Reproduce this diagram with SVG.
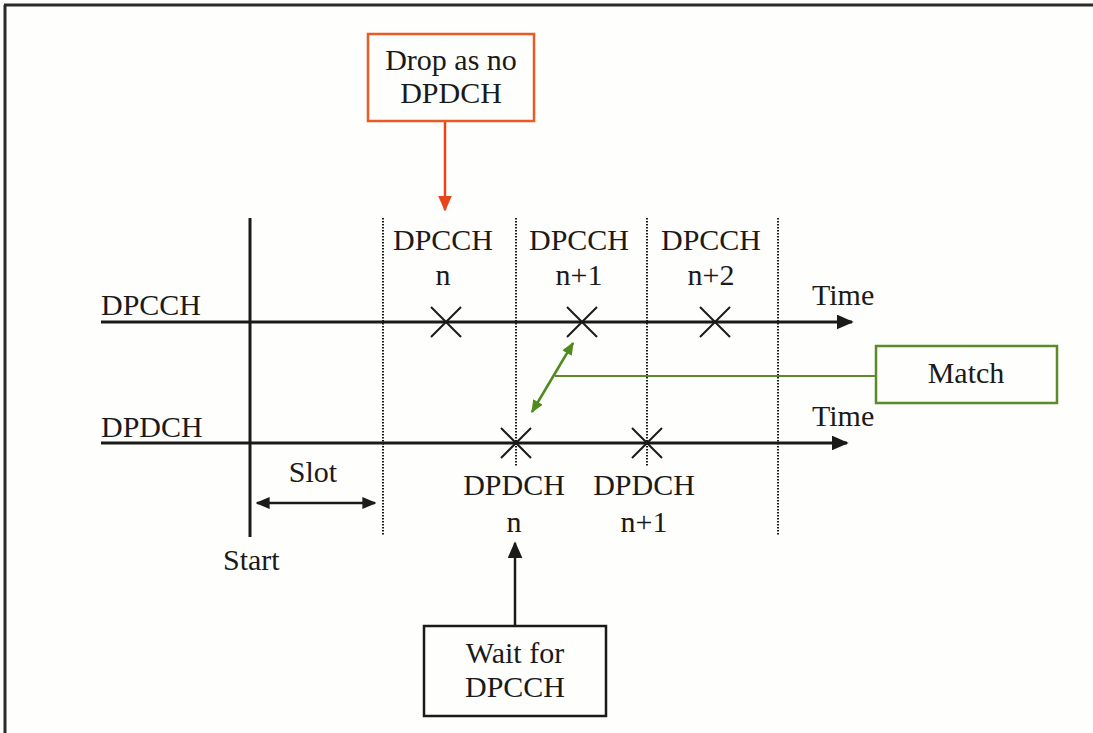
<svg xmlns="http://www.w3.org/2000/svg" width="1093" height="733" viewBox="0 0 1093 733">
<defs>
<marker id="abig" viewBox="0 0 10 10" refX="9" refY="5" markerWidth="17" markerHeight="15" markerUnits="userSpaceOnUse" orient="auto-start-reverse" preserveAspectRatio="none"><path d="M0,0 L10,5 L0,10 z" fill="#1a1a1a"/></marker>
<marker id="asm" viewBox="0 0 10 10" refX="9" refY="5" markerWidth="14" markerHeight="12" markerUnits="userSpaceOnUse" orient="auto-start-reverse" preserveAspectRatio="none"><path d="M0,0 L10,5 L0,10 z" fill="#1a1a1a"/></marker>
<marker id="ao" viewBox="0 0 10 10" refX="9" refY="5" markerWidth="16" markerHeight="14" markerUnits="userSpaceOnUse" orient="auto" preserveAspectRatio="none"><path d="M0,0 L10,5 L0,10 z" fill="#e8441c"/></marker>
<marker id="ag" viewBox="0 0 10 10" refX="9" refY="5" markerWidth="13" markerHeight="11" markerUnits="userSpaceOnUse" orient="auto-start-reverse" preserveAspectRatio="none"><path d="M0,0 L10,5 L0,10 z" fill="#4f8a1e"/></marker>
</defs>
<style>
text{font-family:"Liberation Serif","Times New Roman",serif;font-size:30px;fill:#1a1a1a}
.c{text-anchor:middle}
.ax{stroke:#1a1a1a;stroke-width:3;fill:none}
.dot{stroke:#1a1a1a;stroke-width:2;stroke-dasharray:1.5 1.5;fill:none}
.x{stroke:#1a1a1a;stroke-width:2;fill:none}
.box{fill:#fefefc;stroke-width:2.5}
</style>
<rect x="0" y="0" width="1093" height="733" fill="#fefefc"/>
<g id="frame"><path d="M4,5 H1093 M5,5 V733" stroke="#2a2a2a" stroke-width="3" fill="none"/></g>
<g id="grid">
<line x1="250" y1="218" x2="250" y2="537" class="ax" stroke-width="2.5"/>
<line x1="383" y1="218" x2="383" y2="535" class="dot"/>
<line x1="516" y1="218" x2="516" y2="466" class="dot"/>
<line x1="647" y1="218" x2="647" y2="466" class="dot"/>
<line x1="778" y1="218" x2="778" y2="535" class="dot"/>
</g>
<g id="connectors">
<line x1="101" y1="322" x2="852" y2="322" class="ax" marker-end="url(#abig)"/>
<line x1="101" y1="443" x2="847" y2="443" class="ax" marker-end="url(#abig)"/>
<line x1="257" y1="503" x2="375" y2="503" stroke="#1a1a1a" stroke-width="2.5" marker-start="url(#asm)" marker-end="url(#asm)"/>
<line x1="445" y1="121" x2="445" y2="210" stroke="#e8441c" stroke-width="2.5" marker-end="url(#ao)"/>
<line x1="515" y1="626" x2="515" y2="543" stroke="#1a1a1a" stroke-width="2.5" marker-end="url(#abig)"/>
<line x1="573" y1="343" x2="532" y2="412" stroke="#4f8a1e" stroke-width="2.5" marker-start="url(#ag)" marker-end="url(#ag)"/>
<line x1="555" y1="376" x2="876" y2="376" stroke="#5a8a2a" stroke-width="2"/>
</g>
<g id="marks">
<path class="x" d="M431,307 l30,30 M461,307 l-30,30"/>
<path class="x" d="M567,307 l30,30 M597,307 l-30,30"/>
<path class="x" d="M700,307 l30,30 M730,307 l-30,30"/>
<path class="x" d="M501,428 l30,30 M531,428 l-30,30"/>
<path class="x" d="M632,428 l30,30 M662,428 l-30,30"/>
</g>
<g id="labels">
<text x="101" y="315">DPCCH</text>
<text x="101" y="437">DPDCH</text>
<text x="812" y="305">Time</text>
<text x="812" y="426">Time</text>
<text x="443" y="250" class="c">DPCCH</text><text x="443" y="285" class="c">n</text>
<text x="579" y="250" class="c">DPCCH</text><text x="579" y="285" class="c">n+1</text>
<text x="711" y="250" class="c">DPCCH</text><text x="711" y="285" class="c">n+2</text>
<text x="514" y="495" class="c">DPDCH</text><text x="514" y="532" class="c">n</text>
<text x="644" y="495" class="c">DPDCH</text><text x="644" y="532" class="c">n+1</text>
<text x="313" y="482" class="c">Slot</text>
<text x="223" y="570">Start</text>
</g>
<g id="node-drop">
<rect x="368" y="34" width="166" height="87" class="box" stroke="#ec5a24"/>
<text x="451" y="70" class="c">Drop as no</text>
<text x="451" y="103" class="c">DPDCH</text>
</g>
<g id="node-match">
<rect x="876" y="346" width="181" height="57" class="box" stroke="#5a8a2a"/>
<text x="966" y="383" class="c">Match</text>
</g>
<g id="node-wait">
<rect x="424" y="626" width="182" height="90" class="box" stroke="#1a1a1a"/>
<text x="515" y="663" class="c">Wait for</text>
<text x="515" y="697" class="c">DPCCH</text>
</g>
</svg>
